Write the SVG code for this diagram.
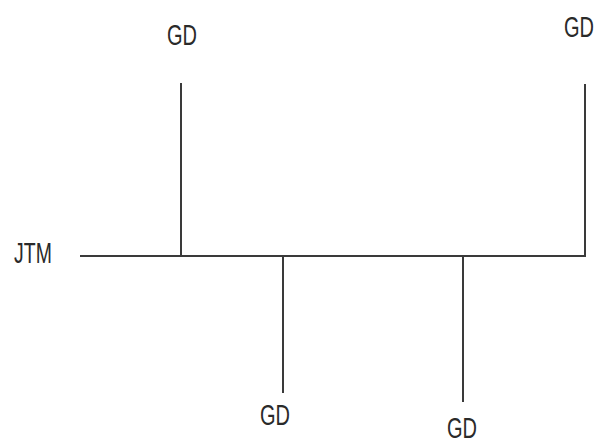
<svg xmlns="http://www.w3.org/2000/svg" width="598" height="447" viewBox="0 0 598 447">
<style>
.l{stroke:#3a3a3a;stroke-width:2;fill:none}
.t{font-family:"Liberation Sans",Arial,sans-serif;font-size:29px;fill:#2a2a2a;text-anchor:middle}
</style>
<rect width="598" height="447" fill="#fff"/>
<g id="connectors">
<polyline class="l" points="80,256 585,256 585,84"/>
<line class="l" x1="181" y1="83" x2="181" y2="256"/>
<line class="l" x1="283" y1="256" x2="283" y2="393"/>
<line class="l" x1="463" y1="256" x2="463" y2="402"/>
</g>
<g id="jtm"><text class="t" transform="translate(33,263) scale(0.67,1)">JTM</text></g>
<g id="gd1"><text class="t" transform="translate(182,45) scale(0.69,1)">GD</text></g>
<g id="gd2"><text class="t" transform="translate(579,37) scale(0.69,1)">GD</text></g>
<g id="gd3"><text class="t" transform="translate(275,425) scale(0.69,1)">GD</text></g>
<g id="gd4"><text class="t" transform="translate(462,438) scale(0.69,1)">GD</text></g>
</svg>
